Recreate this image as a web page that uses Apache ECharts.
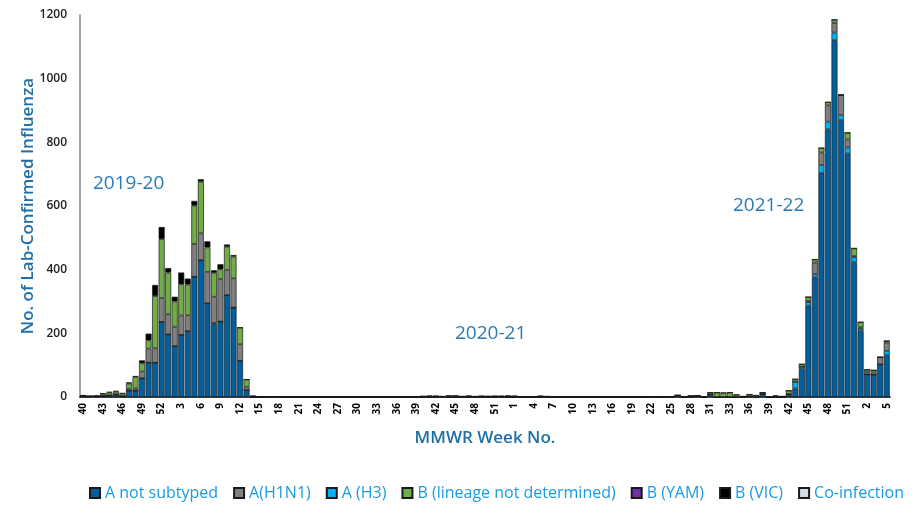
<!DOCTYPE html>
<html>
<head>
<meta charset="utf-8">
<script src="https://cdn.jsdelivr.net/npm/echarts@6/dist/echarts.min.js"></script>
<style>
  html, body { margin: 0; padding: 0; background: #fff; }
  #chart { width: 921px; height: 508px; }
</style>
</head>
<body>
<div id="chart"></div>
<script>
// MMWR weeks, 2019 wk40 through 2022 wk5
function range(a, b) {
  let out = [];
  for (let i = a; i <= b; i++) out.push(String(i));
  return out;
}
const weeks = [].concat(
  range(40, 52),          // 2019
  range(1, 53),           // 2020
  range(1, 31), ["32", "32"], range(33, 52), // 2021
  range(1, 5)             // 2022
);

// values, one per week
const aNotSubtyped = [
  3, 2, 2, 4, 5, 7, 3, 20, 20, 59, 108, 108, 236,
  197, 160, 195, 207, 378, 430, 294, 229, 237, 320, 281, 114, 22,
  0, 0, 0, 1, 0, 0, 0, 0, 0, 0, 0, 0, 0, 0,
  0, 0, 0, 0, 0, 0, 0, 0, 0, 0, 0, 0, 0,
  0, 0, 1, 0, 0, 0, 0, 0, 0, 0, 0, 0, 0,
  0, 0, 0, 0, 0, 0, 0, 0, 0, 0, 0, 0, 0,
  0, 0, 0, 0, 0, 0, 0, 0, 0, 0, 0, 0, 5,
  0, 0, 4, 0, 8, 0, 0,
  0, 0, 0, 2, 0, 10, 0, 0, 0, 8, 27, 88, 287,
  376, 703, 841, 1121, 870, 765, 424,
  207, 71, 70, 103, 131
];
const aH3 = [
  0, 0, 0, 0, 0, 0, 0, 0, 0, 0, 0, 0, 0,
  0, 0, 0, 0, 0, 0, 0, 4, 0, 0, 0, 0, 0,
  0, 0, 0, 0, 0, 0, 0, 0, 0, 0, 0, 0, 0, 0,
  0, 0, 0, 0, 0, 0, 0, 0, 0, 0, 0, 0, 0,
  0, 0, 0, 0, 0, 0, 0, 0, 0, 0, 0, 0, 0,
  0, 0, 0, 0, 0, 0, 0, 0, 0, 0, 0, 0, 0,
  0, 0, 0, 0, 0, 0, 0, 0, 0, 0, 0, 0, 0,
  0, 0, 0, 0, 0, 0, 0,
  0, 0, 0, 0, 0, 0, 0, 0, 0, 0, 21, 7, 11,
  10, 26, 24, 24, 16, 19, 15,
  7, 0, 0, 0, 14
];
const aH1N1 = [
  0, 0, 0, 0, 0, 2, 0, 6, 7, 21, 44, 45, 75,
  63, 61, 61, 50, 103, 84, 99, 82, 134, 79, 92, 52, 10,
  0, 0, 0, 0, 0, 0, 0, 0, 0, 0, 0, 0, 0, 0,
  0, 0, 0, 0, 0, 0, 0, 0, 0, 0, 0, 0, 2,
  0, 0, 0, 0, 0, 0, 0, 0, 0, 0, 0, 0, 0,
  0, 0, 0, 0, 0, 0, 0, 0, 0, 0, 0, 0, 0,
  0, 0, 0, 0, 0, 0, 0, 1, 0, 1, 0, 0, 0,
  0, 1, 0, 0, 0, 0, 0,
  0, 0, 0, 0, 0, 0, 0, 0, 0, 2, 0, 0, 4,
  36, 39, 51, 30, 62, 25, 4,
  5, 8, 7, 22, 26
];
const bLineageNd = [
  0, 0, 1, 6, 9, 8, 8, 16, 36, 26, 26, 164, 185,
  131, 79, 98, 96, 120, 162, 77, 75, 30, 73, 68, 52, 23,
  0, 0, 0, 0, 0, 0, 0, 0, 0, 0, 0, 0, 0, 0,
  0, 0, 0, 0, 0, 0, 0, 0, 0, 0, 0, 0, 0,
  3, 3, 1, 4, 4, 2, 3, 2, 3, 2, 3, 2, 3,
  3, 0, 0, 1, 3, 2, 0, 1, 0, 0, 0, 0, 0,
  1, 0, 0, 1, 0, 0, 0, 0, 0, 0, 0, 0, 0,
  1, 3, 0, 1, 6, 14, 13,
  14, 7, 2, 6, 5, 4, 1, 3, 2, 10, 8, 8, 12,
  10, 14, 10, 10, 0, 21, 24,
  16, 7, 7, 0, 5
];
const bYam = [];
const bVic = [
  3, 1, 1, 2, 2, 2, 1, 4, 3, 9, 21, 35, 38,
  14, 15, 37, 19, 15, 8, 19, 8, 16, 7, 5, 0, 0,
  5, 0, 0, 0, 2, 0, 2, 0, 0, 0, 0, 0, 0, 0,
  0, 0, 0, 0, 1, 0, 0, 0, 1, 0, 0, 0, 0,
  1, 0, 0, 0, 0, 0, 1, 0, 0, 1, 0, 2, 2,
  0, 0, 0, 0, 0, 0, 0, 0, 0, 0, 0, 0, 0,
  0, 0, 0, 0, 0, 0, 0, 1, 2, 1, 2, 2, 0,
  0, 0, 0, 0, 0, 0, 0,
  0, 0, 0, 0, 0, 0, 0, 2, 0, 0, 0, 0, 0,
  0, 0, 0, 0, 3, 0, 0,
  0, 0, 0, 0, 0
];
const coInfection = [];

const seasons = ["2019-20", "2020-21", "2021-22"];

const FONT = "Open Sans";
const textBlue = "#2a7ab8";

let chart = echarts.init(document.getElementById("chart"));

function bar(name, data, color) {
  return {
    name: name,
    type: "bar",
    stack: "flu",
    data: data,
    barCategoryGap: "8%",
    itemStyle: { color: color, borderColor: "#1a1a1a", borderWidth: 0.7 },
    emphasis: { disabled: true }
  };
}

let options = {
  animation: false,
  textStyle: { fontFamily: FONT },
  grid: { left: 80, right: 31, top: 15, bottom: 111 },
  legend: {
    bottom: 2,
    left: 84,
    icon: "rect",
    itemWidth: 10,
    itemHeight: 10,
    itemGap: 15,
    textStyle: { color: "#1a9be0", fontSize: 16, fontFamily: FONT },
    data: ["A not subtyped", "A(H1N1)", "A (H3)", "B (lineage not determined)",
      "B (YAM)", "B (VIC)", "Co-infection"]
  },
  xAxis: {
    type: "category",
    data: weeks,
    name: "MMWR Week No.",
    nameLocation: "middle",
    nameGap: 33,
    nameMoveOverlap: false,
    nameTextStyle: { color: "#1f6fa5", fontSize: 17, fontWeight: 600 },
    axisLine: { lineStyle: { color: "#000", width: 1.5 } },
    axisTick: { interval: 2, length: 5, lineStyle: { color: "#000" } },
    axisLabel: {
      interval: 2,
      rotate: 90,
      color: "#000",
      fontSize: 10,
      fontWeight: "bold",
      margin: 6
    }
  },
  yAxis: {
    type: "value",
    min: 0,
    max: 1200,
    interval: 200,
    name: "No. of Lab-Confirmed Influenza",
    nameLocation: "middle",
    nameGap: 43,
    nameMoveOverlap: false,
    nameTextStyle: { color: "#1f6fa5", fontSize: 17, fontWeight: 600 },
    axisLine: { show: true, lineStyle: { color: "#a6a6a6", width: 2 } },
    axisTick: { show: false },
    splitLine: { show: false },
    axisLabel: {
      color: "#222",
      fontSize: 12,
      fontWeight: 600,
      margin: 13,
      formatter: v => String(v)
    }
  },
  graphic: [
    { type: "text", left: 93, top: 174, style: { text: seasons[0], fill: textBlue, font: "19px '" + FONT + "'" } },
    { type: "text", left: 455, top: 324, style: { text: seasons[1], fill: textBlue, font: "19px '" + FONT + "'" } },
    { type: "text", left: 733, top: 196, style: { text: seasons[2], fill: textBlue, font: "19px '" + FONT + "'" } }
  ],
  series: [
    bar("A not subtyped", aNotSubtyped, "#005f9c"),
    bar("A (H3)", aH3, "#00b0f0"),
    bar("A(H1N1)", aH1N1, "#7f7f7f"),
    bar("B (lineage not determined)", bLineageNd, "#70ad47"),
    bar("B (YAM)", bYam, "#7030a0"),
    bar("B (VIC)", bVic, "#000000"),
    bar("Co-infection", coInfection, "#d6dce5")
  ]
};

chart.setOption(options);
</script>
</body>
</html>
